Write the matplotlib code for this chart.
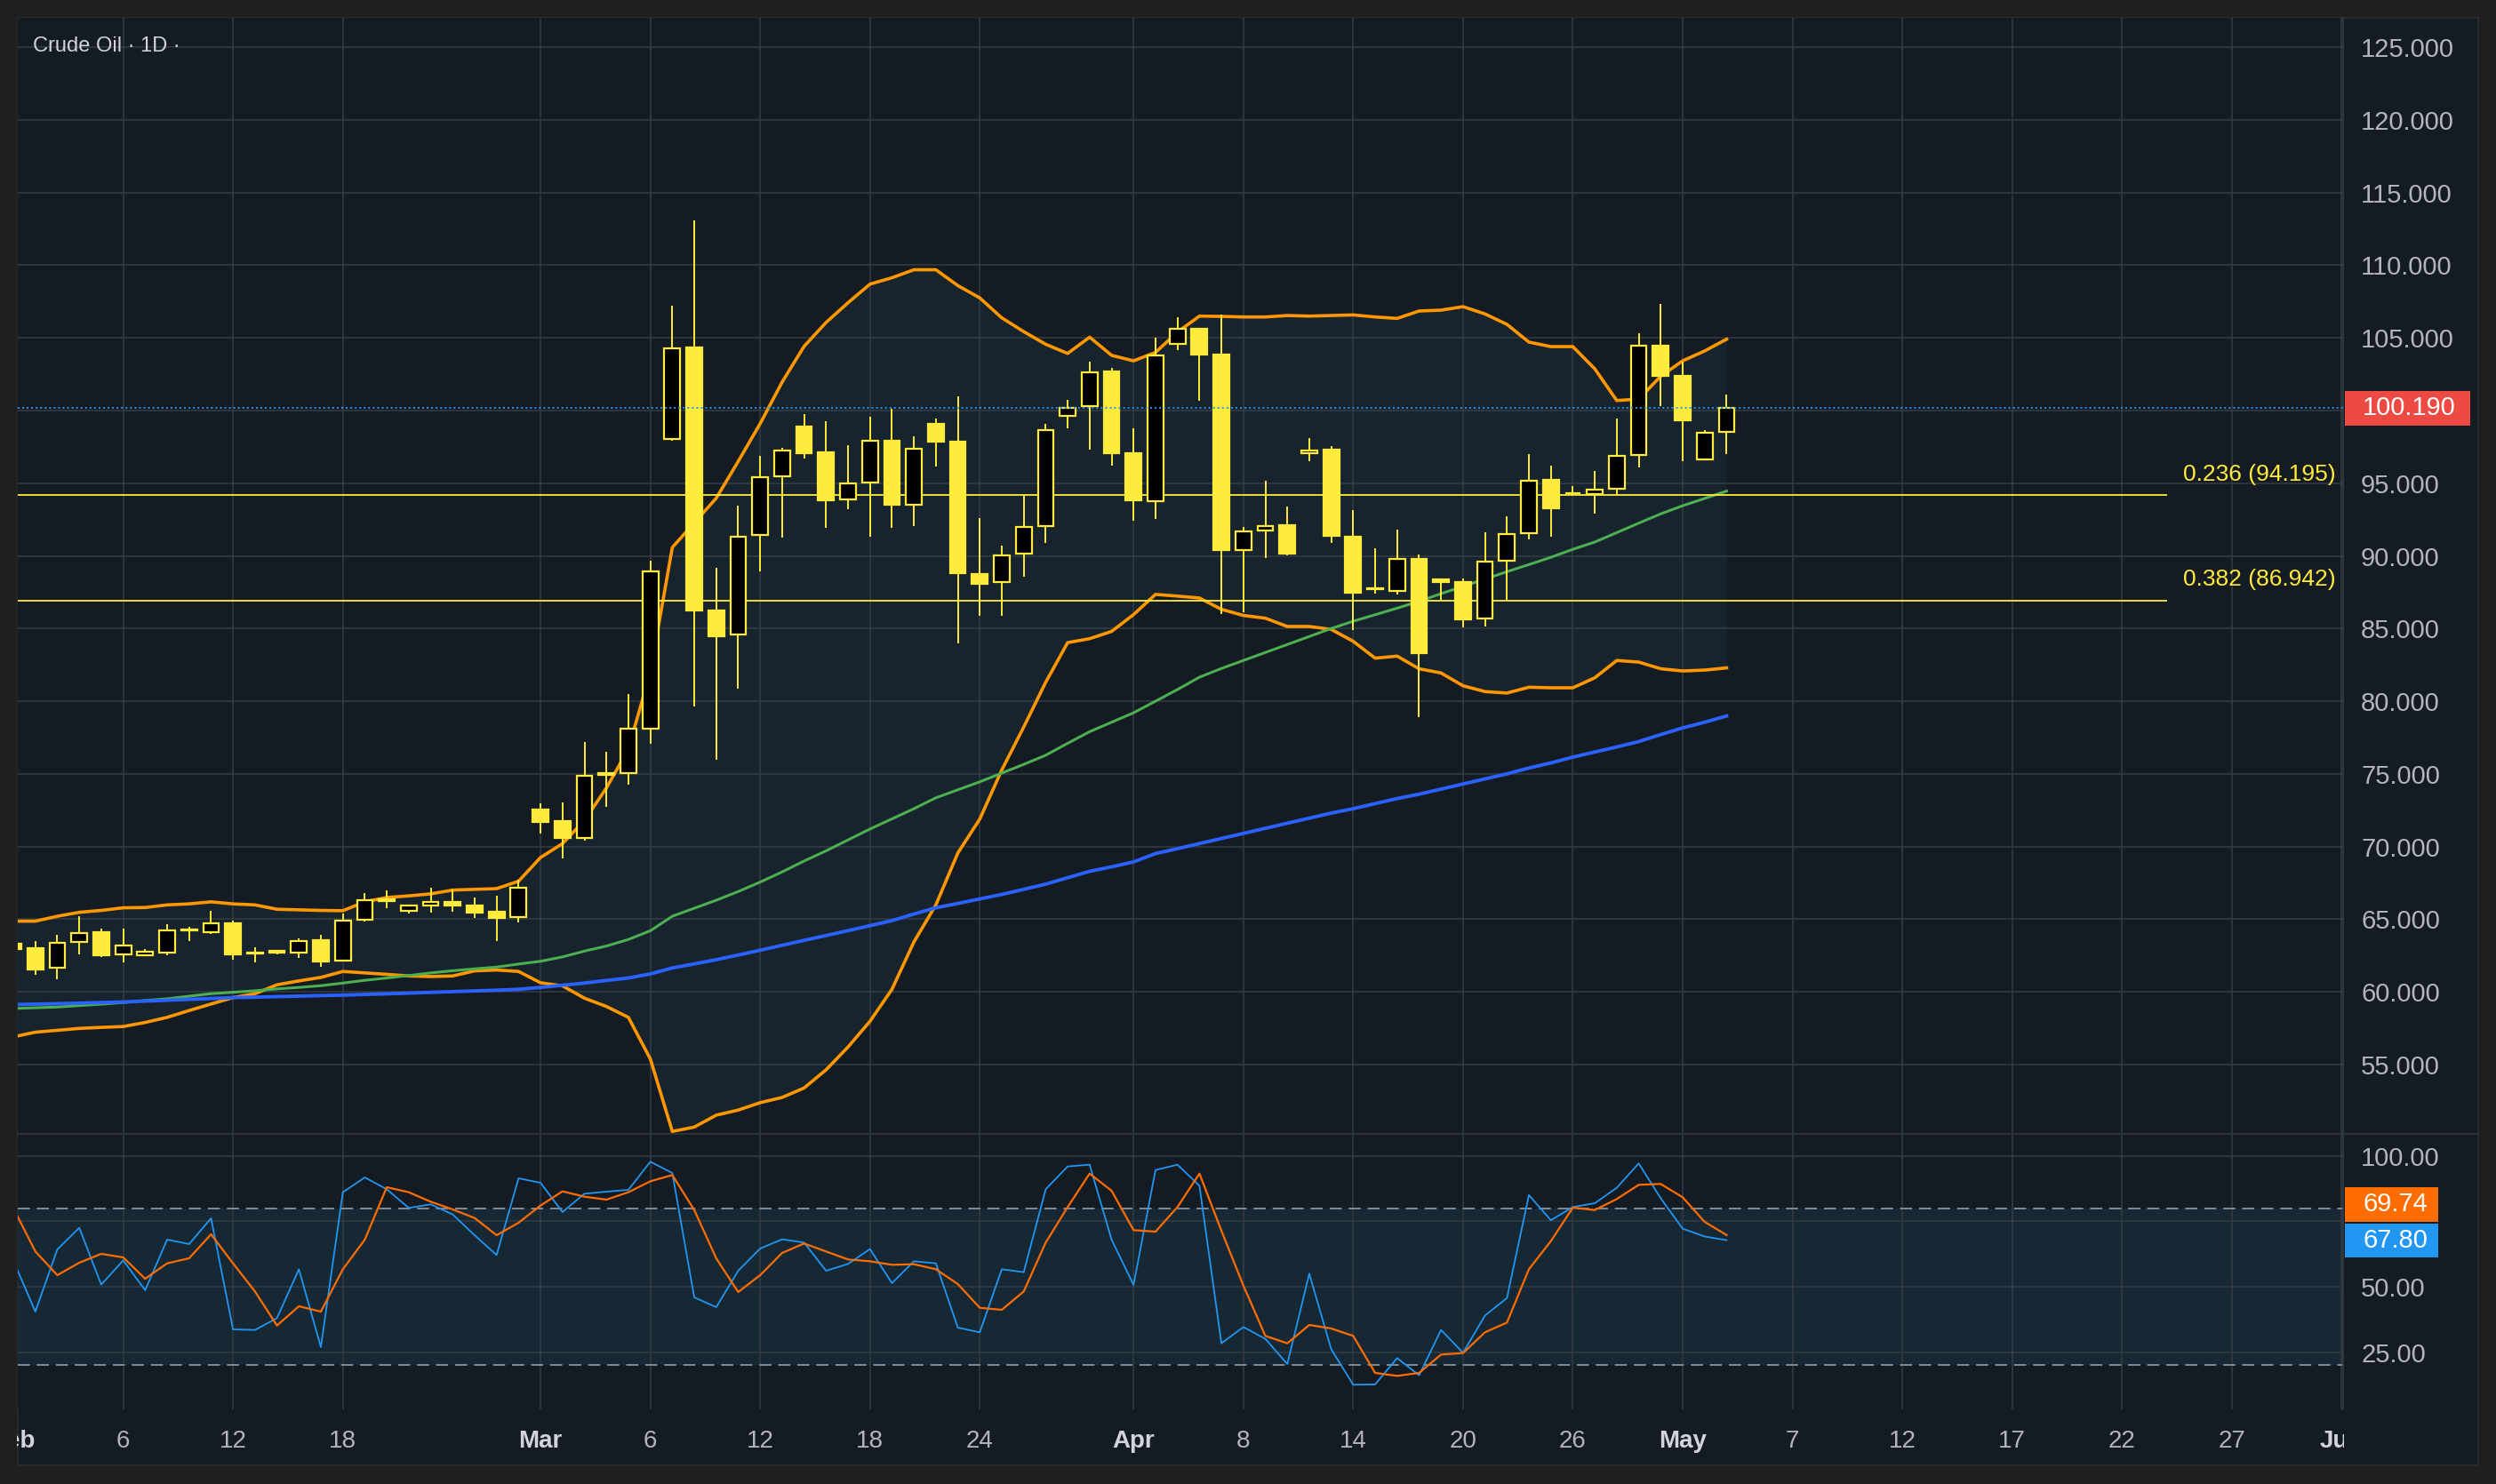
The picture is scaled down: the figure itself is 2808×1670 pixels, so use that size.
import matplotlib
matplotlib.use("Agg")
import numpy as np
import matplotlib.pyplot as plt
from matplotlib.patches import Rectangle
from matplotlib.lines import Line2D
from matplotlib.transforms import blended_transform_factory

plt.rcParams['font.family'] = ['Liberation Sans', 'DejaVu Sans']

# ---- data ----
opens = [63.30, 62.99, 61.66, 63.42, 64.09, 62.58, 62.50, 62.72, 64.25, 64.09,
         64.70, 62.66, 62.80, 62.68, 63.56, 62.15, 64.94, 66.35, 65.58, 65.94,
         66.17, 65.94, 65.52, 65.13, 72.55, 71.75, 70.57, 75.05, 75.08, 78.13,
         98.06, 104.37, 86.27, 84.57, 91.45, 95.49, 98.91, 97.13, 93.86, 95.06,
         97.92, 93.50, 99.10, 97.84, 88.73, 88.18, 90.14, 92.08, 99.64, 100.33,
         102.70, 97.08, 93.77, 104.61, 105.63, 103.83, 90.38, 91.77, 92.09, 97.07,
         97.31, 91.32, 87.69, 87.59, 89.77, 88.40, 88.18, 85.69, 89.67, 91.56,
         95.23, 94.29, 94.27, 94.62, 96.96, 104.48, 102.41, 96.66, 98.55]
highs = [63.55, 63.48, 63.90, 65.21, 64.35, 64.35, 62.93, 64.66, 64.48, 65.58,
         64.90, 63.07, 62.84, 63.70, 63.93, 65.41, 66.78, 66.98, 65.98, 67.17,
         67.04, 66.49, 66.62, 67.72, 72.98, 73.02, 77.21, 76.52, 80.48, 89.68,
         107.21, 113.07, 89.19, 93.45, 96.86, 97.46, 99.78, 99.29, 97.60, 99.56,
         100.13, 98.22, 99.45, 100.98, 92.63, 90.72, 94.18, 99.10, 100.73, 103.35,
         102.92, 98.77, 104.99, 106.41, 105.69, 106.60, 92.01, 95.17, 93.40, 98.08,
         97.53, 93.15, 90.54, 91.81, 90.09, 88.45, 88.44, 91.62, 92.72, 97.00,
         96.21, 94.78, 95.84, 99.45, 105.30, 107.34, 103.34, 98.66, 101.10]
lows = [62.80, 61.19, 60.85, 62.60, 62.42, 62.05, 62.45, 62.52, 63.50, 64.01,
        62.23, 62.00, 62.55, 62.36, 61.74, 62.11, 64.84, 65.78, 65.41, 65.47,
        65.54, 65.11, 63.52, 64.80, 70.92, 69.20, 70.40, 72.71, 74.24, 77.04,
        97.95, 79.66, 75.95, 80.86, 88.91, 91.26, 96.72, 91.92, 93.20, 91.32,
        91.92, 92.08, 96.15, 83.95, 85.86, 85.86, 88.59, 90.91, 98.77, 97.32,
        96.23, 92.44, 92.52, 104.17, 100.69, 86.00, 86.10, 89.87, 90.03, 96.49,
        90.91, 84.87, 87.38, 87.32, 78.90, 86.98, 85.08, 85.14, 86.93, 91.15,
        91.30, 94.20, 92.89, 94.21, 96.11, 100.33, 96.51, 96.60, 97.02]
closes = [62.97, 61.56, 63.40, 64.07, 62.54, 63.21, 62.74, 64.21, 64.25, 64.70,
          62.60, 62.66, 62.68, 63.52, 62.11, 64.92, 66.31, 66.23, 65.92, 66.17,
          65.92, 65.47, 65.11, 67.15, 71.71, 70.57, 74.86, 74.90, 78.08, 88.94,
          104.28, 86.27, 84.49, 91.32, 95.41, 97.27, 97.05, 93.83, 95.00, 97.92,
          93.50, 97.38, 97.87, 88.78, 88.10, 90.03, 92.00, 98.66, 100.19, 102.64,
          97.05, 93.83, 103.79, 105.62, 103.83, 90.38, 91.70, 92.07, 90.13, 97.27,
          91.36, 87.48, 87.69, 89.77, 83.31, 88.20, 85.61, 89.62, 91.52, 95.19,
          93.29, 94.29, 94.58, 96.90, 104.46, 102.41, 99.35, 98.49, 100.19]

bb_upper = [64.86, 64.86, 65.20, 65.47, 65.60, 65.78, 65.80, 65.98, 66.05, 66.19,
            66.05, 65.98, 65.68, 65.64, 65.60, 65.58, 66.19, 66.49, 66.60, 66.74,
            67.00, 67.05, 67.10, 67.61, 69.24, 70.20, 71.79, 74.03, 76.70, 82.00,
            90.58, 92.27, 93.97, 96.50, 99.10, 101.96, 104.42, 106.06, 107.42, 108.70,
            109.14, 109.69, 109.69, 108.60, 107.75, 106.38, 105.43, 104.56, 103.93, 105.05,
            103.80, 103.42, 104.00, 105.40, 106.50, 106.48, 106.44, 106.44, 106.54, 106.50,
            106.54, 106.58, 106.44, 106.34, 106.85, 106.91, 107.15, 106.65, 105.93, 104.71,
            104.40, 104.40, 102.87, 100.69, 100.79, 102.36, 103.42, 104.10, 104.91]
bb_lower = [56.90, 57.22, 57.35, 57.48, 57.55, 57.61, 57.89, 58.24, 58.71, 59.16,
            59.60, 59.87, 60.48, 60.75, 60.99, 61.40, 61.30, 61.20, 61.09, 61.05,
            61.09, 61.44, 61.50, 61.40, 60.62, 60.41, 59.56, 58.99, 58.24, 55.38,
            50.39, 50.69, 51.51, 51.86, 52.37, 52.73, 53.38, 54.63, 56.20, 57.97,
            60.17, 63.43, 65.98, 69.55, 71.89, 75.26, 78.22, 81.30, 84.03, 84.30,
            84.80, 85.96, 87.35, 87.23, 87.10, 86.32, 85.90, 85.71, 85.14, 85.14,
            84.94, 84.12, 82.96, 83.10, 82.23, 81.94, 81.06, 80.66, 80.56, 80.96,
            80.92, 80.92, 81.61, 82.80, 82.69, 82.23, 82.08, 82.14, 82.29]
sma_fast = [58.85, 58.90, 58.95, 59.05, 59.15, 59.26, 59.40, 59.52, 59.70, 59.87,
            59.97, 60.07, 60.20, 60.30, 60.42, 60.60, 60.79, 60.95, 61.12, 61.30,
            61.45, 61.58, 61.70, 61.91, 62.10, 62.40, 62.80, 63.15, 63.60, 64.20,
            65.20, 65.75, 66.30, 66.90, 67.55, 68.25, 69.00, 69.70, 70.45, 71.20,
            71.90, 72.60, 73.35, 73.90, 74.45, 75.05, 75.65, 76.28, 77.10, 77.90,
            78.55, 79.20, 80.00, 80.80, 81.65, 82.25, 82.80, 83.35, 83.90, 84.45,
            85.00, 85.50, 85.95, 86.40, 86.87, 87.40, 87.90, 88.40, 88.91, 89.40,
            89.90, 90.45, 90.95, 91.60, 92.25, 92.89, 93.45, 93.95, 94.46]
sma_slow = [59.12, 59.15, 59.18, 59.22, 59.26, 59.30, 59.36, 59.42, 59.48, 59.54,
            59.60, 59.63, 59.67, 59.70, 59.74, 59.77, 59.82, 59.86, 59.91, 59.96,
            60.01, 60.06, 60.11, 60.17, 60.30, 60.45, 60.60, 60.78, 60.95, 61.23,
            61.64, 61.92, 62.21, 62.53, 62.86, 63.20, 63.54, 63.87, 64.21, 64.55,
            64.90, 65.35, 65.78, 66.08, 66.39, 66.70, 67.05, 67.41, 67.85, 68.29,
            68.60, 68.94, 69.51, 69.85, 70.20, 70.55, 70.90, 71.25, 71.60, 71.95,
            72.30, 72.60, 72.95, 73.30, 73.60, 73.95, 74.30, 74.65, 75.00, 75.40,
            75.75, 76.15, 76.50, 76.85, 77.22, 77.70, 78.16, 78.55, 78.98]
stoch_k = [60.00, 40.51, 64.27, 72.52, 50.81, 60.08, 48.66, 68.00, 66.30, 76.14,
           33.73, 33.50, 38.03, 56.69, 26.94, 86.10, 91.75, 87.23, 80.10, 81.46,
           77.61, 69.69, 62.12, 91.41, 89.72, 78.52, 85.53, 86.32, 87.00, 97.75,
           93.45, 45.94, 42.21, 56.12, 64.61, 68.12, 66.87, 56.12, 58.72, 64.40,
           51.37, 59.74, 58.95, 34.41, 32.60, 56.69, 55.56, 87.23, 95.94, 96.62,
           68.00, 50.69, 94.58, 96.62, 88.59, 28.41, 34.63, 30.11, 20.49, 55.00,
           26.15, 12.60, 12.70, 22.77, 16.20, 33.50, 24.80, 39.00, 45.70, 85.00,
           75.40, 80.45, 81.90, 87.80, 97.10, 83.80, 72.20, 69.20, 67.80]
stoch_d = [80.00, 63.48, 54.43, 59.18, 62.57, 61.21, 53.07, 58.95, 60.87, 70.04,
           58.95, 48.20, 35.20, 42.55, 40.51, 56.69, 68.00, 88.02, 86.10, 82.48,
           79.54, 76.26, 69.69, 74.45, 81.01, 86.44, 84.40, 83.27, 86.10, 90.28,
           92.66, 79.31, 60.87, 47.98, 54.43, 62.91, 66.53, 63.48, 60.42, 59.74,
           58.39, 58.61, 56.69, 51.03, 41.98, 41.19, 48.21, 66.87, 80.44, 93.22,
           86.66, 71.62, 71.05, 80.44, 93.22, 71.39, 50.47, 31.24, 28.41, 35.42,
           34.07, 31.24, 17.10, 15.97, 17.10, 24.11, 24.68, 32.60, 36.33, 56.69,
           67.43, 80.22, 79.31, 83.50, 88.93, 89.27, 84.17, 74.79, 69.74]

fib_ratios = [0.236, 0.382]
fib_levels = [94.195, 86.942]
last_price = 100.19

tick_pos = [5, 10, 15, 24, 29, 34, 39, 44, 51, 56, 61, 66, 71, 76, 81, 86, 91, 96, 101, 106]
tick_lab = ['6', '12', '18', 'Mar', '6', '12', '18', '24', 'Apr', '8', '14', '20', '26',
            'May', '7', '12', '17', '22', '27', 'Jun']
months = ['Feb', 'Mar', 'Apr', 'May', 'Jun']

# ---- style ----
OUTER = '#1f1f1f'
PANEL = '#151b22'
GRID = '#363c44'
YEL = '#ffeb3b'
TXT = '#b2b5be'
W, H = 2808, 1670
XPAD = 16.5

def fx(px):
    return px / W

def fy(py):
    return 1 - py / H

fig = plt.figure(figsize=(W / 100, H / 100), dpi=100, facecolor=OUTER)

bg = fig.add_axes([fx(20), fy(1649), fx(2768), 1629 / H])
bg.set_facecolor(PANEL)
bg.set_xticks([])
bg.set_yticks([])
for s in bg.spines.values():
    s.set_color('#2a2e34')
    s.set_linewidth(1.2)

ax = fig.add_axes([fx(20), fy(1275.7), fx(2616), 1255.7 / H])
rs = fig.add_axes([fx(20), fy(1585.7), fx(2616), 310 / H])

x = np.arange(len(opens))
for a in (ax, rs):
    a.set_facecolor(PANEL)
    a.set_xlim(0.2, 106.07)
    a.set_axisbelow(True)
    for k in ('left', 'top', 'bottom'):
        a.spines[k].set_visible(False)
    a.spines['right'].set_color(GRID)
    a.spines['right'].set_linewidth(1.2)
    a.set_xticks(tick_pos)
    a.grid(color=GRID, lw=1.1)
    a.yaxis.tick_right()

# ---- main pane ----
ax.set_ylim(50.24, 127.03)
yt = list(range(55, 130, 5))
ax.set_yticks(yt)
ax.set_yticklabels(['' if v == 100 else f'{v:.3f}' for v in yt])
ax.tick_params(axis='y', length=0, pad=14.4, labelsize=21, labelcolor=TXT)
ax.tick_params(axis='x', length=0, labelbottom=False)

ax.fill_between(x, bb_lower, bb_upper, color='#17232d', lw=0, zorder=0.3)
ax.plot(x, bb_upper, color='#ff9800', lw=2.6, zorder=2)
ax.plot(x, bb_lower, color='#ff9800', lw=2.6, zorder=2)
ax.plot(x, sma_fast, color='#4caf50', lw=2.2, zorder=2)
ax.plot(x, sma_slow, color='#2962ff', lw=2.8, zorder=2)

for r, lv in zip(fib_ratios, fib_levels):
    ax.hlines(lv, 0.2, 98.06, color=YEL, lw=1.3, zorder=2.5)
    ax.annotate(f'{r:.3f} ({lv:.3f})', xy=(105.75, lv), xytext=(0, 16.6),
                textcoords='offset points', ha='right', va='center',
                color=YEL, fontsize=19, zorder=5)

o = np.array(opens)
c = np.array(closes)
up = c > o
ax.vlines(x, lows, highs, color=YEL, lw=1.4, zorder=3)
ax.bar(x, np.maximum(np.abs(c - o), 0.05), bottom=np.minimum(o, c), width=0.72,
       color=np.where(up, '#000000', YEL), edgecolor=YEL, lw=1.6, zorder=3.5)

ax.axhline(last_price, color='#2196f3', lw=1.4, ls=(0, (1, 1.6)), zorder=4)

tr = blended_transform_factory(ax.transAxes, ax.transData)
ax.add_patch(Rectangle((1.00076, last_price - 1.23), 0.0539, 2.385, transform=tr,
                       clip_on=False, facecolor='#ec4a43', lw=0, zorder=10))
ax.text(1.00841, last_price, f'{last_price:.3f}', transform=tr, color='white',
        fontsize=21, va='center', ha='left', clip_on=False, zorder=11)

# ---- stochastic pane ----
rs.set_ylim(3.29, 108.48)
rs.set_yticks([25, 50, 75, 100])
rs.set_yticklabels(['25.00', '50.00', '', '100.00'])
rs.tick_params(axis='y', length=0, pad=14.4, labelsize=21, labelcolor=TXT)
rs.tick_params(axis='x', length=0, pad=XPAD, labelsize=20, labelcolor=TXT)
rs.set_xticklabels(tick_lab)
for t in rs.get_xticklabels():
    if t.get_text() in months:
        t.set_fontweight('bold')
        t.set_color('#d1d4dc')

rs.axhspan(20, 80, color='#172835', lw=0, zorder=0.3)
rs.axhline(80, color='#868993', lw=1.4, ls=(0, (7, 4)), zorder=1)
rs.axhline(20, color='#868993', lw=1.4, ls=(0, (7, 4)), zorder=1)
rs.plot(x, stoch_k, color='#2196f3', lw=1.3, zorder=3)
rs.plot(x, stoch_d, color='#ff6d00', lw=1.6, zorder=3)

tr2 = blended_transform_factory(rs.transAxes, rs.transData)
for val, y0, y1, col in [(stoch_d[-1], 74.69, 88.12, '#ff6d00'),
                         (stoch_k[-1], 61.21, 74.24, '#2196f3')]:
    rs.add_patch(Rectangle((1.00076, y0), 0.04014, y1 - y0, transform=tr2,
                           clip_on=False, facecolor=col, lw=0, zorder=10))
    rs.text(1.00841, (y0 + y1) / 2, f'{val:.2f}', transform=tr2, color='white',
            fontsize=21, va='center', ha='left', clip_on=False, zorder=11)

# first month label sits half outside the panel, like the reference
trx = blended_transform_factory(rs.transData, rs.transAxes)
rs.annotate('Feb', xy=(0, 0), xycoords=trx, xytext=(0, -XPAD), textcoords='offset points',
            ha='center', va='top', fontsize=20, fontweight='bold', color='#d1d4dc',
            annotation_clip=False)

# pane separator and title
fig.add_artist(Line2D([fx(20), fx(2788)], [fy(1275.7), fy(1275.7)],
                      color='#30343a', lw=1.3))
fig.text(fx(37), fy(52.5), 'Crude Oil · 1D ·', fontsize=17, color='#d1d4dc', va='center')

# clip the half-visible month names at the panel edges
fig.patches.append(Rectangle((0, 0), fx(19), 1, transform=fig.transFigure,
                             facecolor=OUTER, lw=0, zorder=5))
fig.patches.append(Rectangle((fx(2637), fy(1647)), fx(150), (1647 - 1588) / H,
                             transform=fig.transFigure, facecolor=PANEL, lw=0, zorder=5))

fig.savefig('out.png', dpi=100, facecolor=OUTER)
